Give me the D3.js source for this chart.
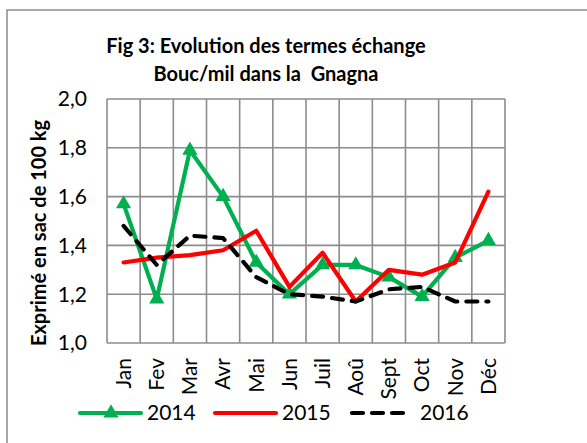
<!DOCTYPE html>
<meta charset="utf-8">
<style>
body { margin: 0; background: #fff; }
text { font-family: 'Lato', 'Open Sans', sans-serif; fill: #000; }
.grid line { stroke: #8c8c8c; stroke-width: 1.6px; }
</style>
<body>
<script src="https://cdnjs.cloudflare.com/ajax/libs/d3/7.8.5/d3.min.js"></script>
<script>

const months = ["Jan", "Fev", "Mar", "Avr", "Mai", "Jun", "Juil", "Aoû", "Sept", "Oct", "Nov", "Déc"];
const v2014 = [1.57, 1.18, 1.79, 1.60, 1.33, 1.20, 1.32, 1.32, 1.27, 1.19, 1.35, 1.42];
const v2015 = [1.33, 1.35, 1.36, 1.38, 1.46, 1.23, 1.37, 1.17, 1.30, 1.28, 1.33, 1.62];
const v2016 = [1.48, 1.32, 1.44, 1.43, 1.27, 1.20, 1.19, 1.17, 1.22, 1.23, 1.17, 1.17];
const yTicks = [1.0, 1.2, 1.4, 1.6, 1.8, 2.0];

const series = [
  {name: "2014", values: v2014, color: "#00b050", dash: null, marker: true},
  {name: "2015", values: v2015, color: "#ff0000", dash: null, marker: false},
  {name: "2016", values: v2016, color: "#000000", dash: "11,9", marker: false}
];

const W = 587, H = 443,
      pLeft = 107, pRight = 505, pTop = 99, pBottom = 343;

const svg = d3.select("body").append("svg")
    .attr("width", W)
    .attr("height", H);

// outer frame
svg.append("rect")
    .attr("x", 7).attr("y", 10)
    .attr("width", W).attr("height", H)
    .attr("fill", "none")
    .attr("stroke", "#8c8c8c")
    .attr("stroke-width", 1.5);

const x = d3.scaleBand().domain(months).range([pLeft, pRight]),
      y = d3.scaleLinear().domain([1.0, 2.0]).range([pBottom, pTop]);

// grid
const grid = svg.append("g").attr("class", "grid");
grid.selectAll(".h")
    .data(yTicks)
    .join("line")
        .attr("x1", pLeft).attr("x2", pRight)
        .attr("y1", d => y(d)).attr("y2", d => y(d));
grid.selectAll(".v")
    .data(months.concat(["end"]))
    .join("line")
        .attr("x1", (d, i) => i < months.length ? x(d) : pRight)
        .attr("x2", (d, i) => i < months.length ? x(d) : pRight)
        .attr("y1", pTop).attr("y2", pBottom);

// y axis labels
svg.append("g")
    .selectAll("text")
    .data(yTicks)
    .join("text")
        .attr("x", 87)
        .attr("y", d => y(d))
        .attr("dy", "0.35em")
        .attr("text-anchor", "end")
        .attr("font-size", 21)
        .text(d => d.toFixed(1).replace(".", ","));

svg.append("text")
    .attr("transform", `translate(46,${(pTop + pBottom) / 2 + 12}) rotate(-90)`)
    .attr("text-anchor", "middle")
    .attr("font-size", 20)
    .attr("font-weight", "bold")
    .text("Exprimé en sac de 100 kg");

// x axis labels
svg.append("g")
    .selectAll("text")
    .data(months)
    .join("text")
        .attr("transform", d => `translate(${x(d) + x.bandwidth() / 2},358) rotate(-90)`)
        .attr("dy", "0.35em")
        .attr("text-anchor", "end")
        .attr("font-size", 21)
        .text(d => d);

// title
svg.append("text")
    .attr("x", 266).attr("y", 53)
    .attr("text-anchor", "middle")
    .attr("font-size", 20)
    .attr("font-weight", "bold")
    .text("Fig 3: Evolution des termes échange");
svg.append("text")
    .attr("x", 266).attr("y", 81)
    .attr("text-anchor", "middle")
    .attr("font-size", 20)
    .attr("font-weight", "bold")
    .attr("xml:space", "preserve")
    .text("Bouc/mil dans la  Gnagna");

const line = d3.line()
    .x((d, i) => x(months[i]) + x.bandwidth() / 2)
    .y(d => y(d));

const tri = d3.symbol().type(d3.symbolTriangle).size(100);

series.forEach(s => {
  svg.append("path")
      .datum(s.values)
      .attr("fill", "none")
      .attr("stroke", s.color)
      .attr("stroke-width", 4.2)
      .attr("stroke-linejoin", "round")
      .attr("stroke-linecap", "round")
      .attr("stroke-dasharray", s.dash)
      .attr("d", line);
  if (s.marker) {
    svg.append("g")
        .selectAll("path")
        .data(s.values)
        .join("path")
            .attr("transform", (d, i) => `translate(${x(months[i]) + x.bandwidth() / 2},${y(d)})`)
            .attr("fill", s.color)
            .attr("d", tri);
  }
});

// legend
const legendX = [80, 215, 352];
const lg = svg.append("g")
    .selectAll("g")
    .data(series)
    .join("g")
        .attr("transform", (d, i) => `translate(${legendX[i]},413)`);
lg.append("line")
    .attr("x1", 0).attr("x2", (d, i) => i == 2 ? 56 : 61)
    .attr("stroke", d => d.color)
    .attr("stroke-width", 4.2)
    .attr("stroke-linecap", "round")
    .attr("stroke-dasharray", d => d.dash);
lg.filter(d => d.marker).append("path")
    .attr("transform", "translate(31,0)")
    .attr("fill", d => d.color)
    .attr("d", tri);
lg.append("text")
    .attr("x", (d, i) => i == 2 ? 68 : 67)
    .attr("dy", "0.35em")
    .attr("font-size", 21)
    .text(d => d.name);

</script>
